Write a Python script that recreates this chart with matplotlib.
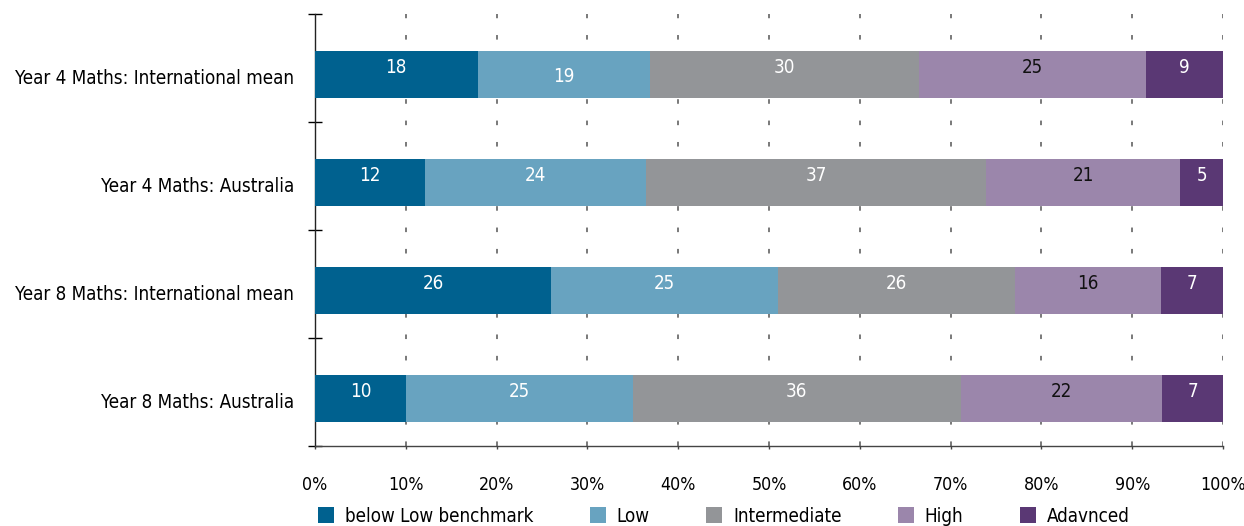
import matplotlib
matplotlib.use("Agg")
import matplotlib.pyplot as plt
from matplotlib.patches import Patch
import numpy as np

categories = ["Year 4 Maths: International mean", "Year 4 Maths: Australia",
              "Year 8 Maths: International mean", "Year 8 Maths: Australia"]
series = ["below Low benchmark", "Low", "Intermediate", "High", "Adavnced"]
below_low = [17.9, 12.1, 26.0, 10.0]
low = [19.0, 24.4, 25.0, 25.0]
intermediate = [29.6, 37.4, 26.1, 36.1]
high = [25.0, 21.4, 16.1, 22.2]
advanced = [8.5, 4.7, 6.8, 6.7]
labels = [[18, 12, 26, 10], [19, 24, 25, 25], [30, 37, 26, 36],
          [25, 21, 16, 22], [9, 5, 7, 7]]
xticks = [0, 10, 20, 30, 40, 50, 60, 70, 80, 90, 100]

colors = ["#00618F", "#68A3C0", "#939598", "#9B86AB", "#5A3874"]
text_colors = ["white", "white", "white", "#111111", "white"]

plt.rcParams['font.family'] = ['DejaVu Sans']
plt.rcParams['font.stretch'] = 'condensed'
FS = 13.5

fig = plt.figure(figsize=(12.44, 5.26), dpi=100)
L, R, T, B = 315 / 1244, 1223 / 1244, 1 - 14 / 526, 1 - 446 / 526
ax = fig.add_axes([L, B, R - L, T - B])

data = [below_low, low, intermediate, high, advanced]
y = np.arange(len(categories)) + 0.06
left = np.zeros(len(categories))
for i, vals in enumerate(data):
    vals = np.array(vals)
    ax.barh(y, vals, left=left, height=0.43, color=colors[i], zorder=3)
    for j, v in enumerate(vals):
        dy = -0.065
        if i == 1 and j == 0:
            dy = 0.015
        ax.text(left[j] + v / 2, y[j] + dy, str(labels[i][j]), ha='center', va='center',
                color=text_colors[i], fontsize=FS, zorder=4)
    left += vals

ax.set_xlim(0, 100)
ax.set_ylim(len(categories) - 0.5, -0.5)
ax.set_xticks(xticks)
ax.set_xticklabels([f"{t}%" for t in xticks], fontsize=12.8)
ax.set_yticks(y + 0.02)
ax.set_yticklabels(categories, fontsize=FS)
ax.set_yticks(np.arange(-0.5, len(categories), 1.0), minor=True)
ax.tick_params(axis='y', which='major', length=0, pad=15)
ax.tick_params(axis='y', which='minor', length=10, direction='inout', width=1)
ax.tick_params(axis='x', which='major', length=2.5, direction='out', pad=19, width=1,
               color='#444444')
for s in ['top', 'right']:
    ax.spines[s].set_visible(False)
ax.spines['left'].set_linewidth(1)
ax.spines['bottom'].set_linewidth(1)
ax.spines['left'].set_color('#222222')
ax.spines['bottom'].set_color('#444444')
ax.xaxis.grid(True, linestyle=(0, (3, 11)), color='#555555', linewidth=1.1, zorder=0)
ax.set_axisbelow(True)

handles = [Patch(facecolor=c, edgecolor='none') for c in colors]
fig.legend(handles, series, loc='center left', bbox_to_anchor=(318 / 1244, 1 - 516 / 526),
           bbox_transform=fig.transFigure, ncol=5, frameon=False, fontsize=FS,
           borderpad=0, borderaxespad=0, handlelength=0.85, handleheight=1.0,
           handletextpad=0.59, columnspacing=3.0)

fig.savefig("out.png", dpi=100)
